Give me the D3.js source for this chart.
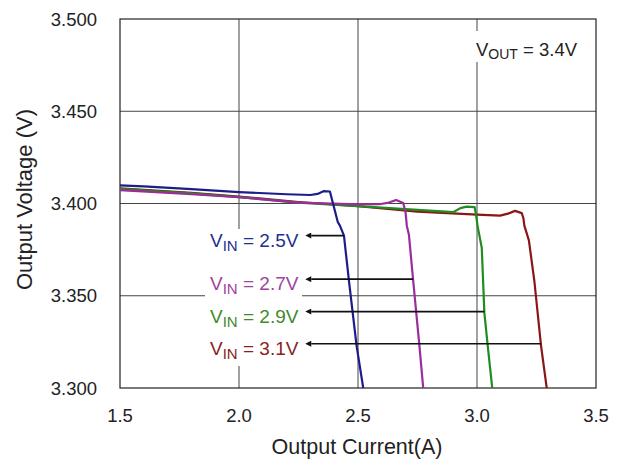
<!DOCTYPE html>
<html>
<head>
<meta charset="utf-8">
<script src="https://cdn.jsdelivr.net/npm/d3@7"></script>
<style>
  body { margin: 0; background: #fff; }
  text { font-family: "Liberation Sans", Arial, sans-serif; }
</style>
</head>
<body>
<script>
// Width and Height
const w = 620;
const h = 460;

// axis ticks
const xTicks = [1.5, 2.0, 2.5, 3.0, 3.5];
const yTicks = [3.300, 3.350, 3.400, 3.450, 3.500];

// series
const vin25X = [1.5, 1.6, 1.8, 2.0, 2.2, 2.3, 2.33, 2.355, 2.382, 2.395, 2.415, 2.424, 2.441, 2.462, 2.494, 2.522];
const vin25Y = [3.4098, 3.4093, 3.4078, 3.4062, 3.4050, 3.4046, 3.4052, 3.4067, 3.4065, 3.4000, 3.3900, 3.3880, 3.3826, 3.3580, 3.3230, 3.3000];

const vin27X = [1.5, 1.8, 2.0, 2.25, 2.5, 2.59, 2.63, 2.66, 2.69, 2.70, 2.705, 2.714, 2.732, 2.758, 2.774];
const vin27Y = [3.4073, 3.4050, 3.4034, 3.4005, 3.3995, 3.3996, 3.4005, 3.4019, 3.4003, 3.3950, 3.3880, 3.3830, 3.3580, 3.3230, 3.3000];

const vin29X = [1.5, 1.8, 2.0, 2.25, 2.5, 2.7, 2.9, 2.93, 2.957, 2.99, 2.997, 3.002, 3.020, 3.031, 3.045, 3.064];
const vin29Y = [3.4080, 3.4055, 3.4035, 3.4005, 3.3986, 3.3970, 3.3953, 3.3975, 3.3983, 3.3980, 3.3930, 3.3880, 3.3760, 3.3407, 3.3230, 3.3000];

const vin31X = [1.5, 1.8, 2.0, 2.25, 2.5, 2.75, 3.0, 3.097, 3.13, 3.16, 3.188, 3.195, 3.199, 3.218, 3.241, 3.269, 3.293];
const vin31Y = [3.4082, 3.4058, 3.4038, 3.4008, 3.3985, 3.3956, 3.3940, 3.3934, 3.3945, 3.3960, 3.3948, 3.3920, 3.3880, 3.3800, 3.3580, 3.3230, 3.3000];

// legend labels + arrows
const vinNames = ["2.5V", "2.7V", "2.9V", "3.1V"];
const arrowY = [3.3826, 3.3590, 3.3414, 3.3240];
const arrowEnd = [2.441, 2.732, 3.031, 3.270];
const arrowTip = 2.27;

const lineColors = ["#1c1c8a", "#9b2c9b", "#1e8c1e", "#8a1616"];
const textColors = ["#23308f", "#a0429f", "#3e8a2a", "#8b2222"];

const margin = {top: 19, right: 24, bottom: 72, left: 120};
const iw = w - margin.left - margin.right;
const ih = h - margin.top - margin.bottom;

const x = d3.scaleLinear().domain([1.5, 3.5]).range([0, iw]);
const y = d3.scaleLinear().domain([3.3, 3.5]).range([ih, 0]);

// Create SVG
const svg = d3.select("body")
                .append("svg")
                .attr("width", w)
                .attr("height", h);

const g = svg.append("g")
                .attr("transform", `translate(${margin.left},${margin.top})`);

// grid lines
g.selectAll(".vgrid")
    .data(xTicks.slice(1, -1))
    .enter()
    .append("line")
    .attr("x1", d => x(d)).attr("x2", d => x(d))
    .attr("y1", 0).attr("y2", ih)
    .attr("stroke", "#444").attr("stroke-width", 1);

g.selectAll(".hgrid")
    .data(yTicks.slice(1, -1))
    .enter()
    .append("line")
    .attr("x1", 0).attr("x2", iw)
    .attr("y1", d => y(d)).attr("y2", d => y(d))
    .attr("stroke", "#444").attr("stroke-width", 1);

// frame
g.append("rect")
    .attr("width", iw).attr("height", ih)
    .attr("fill", "none").attr("stroke", "#222").attr("stroke-width", 1.2);

// tick labels
g.selectAll(".ylab")
    .data(yTicks)
    .enter()
    .append("text")
    .attr("x", -23)
    .attr("y", d => y(d) + 6.5)
    .attr("text-anchor", "end")
    .attr("font-size", 18.5)
    .attr("fill", "#222")
    .text(d => d.toFixed(3));

g.selectAll(".xlab")
    .data(xTicks)
    .enter()
    .append("text")
    .attr("x", d => x(d))
    .attr("y", ih + 34)
    .attr("text-anchor", "middle")
    .attr("font-size", 18.5)
    .attr("fill", "#222")
    .text(d => d.toFixed(1));

// axis titles
svg.append("text")
    .attr("x", margin.left + iw / 2 - 1)
    .attr("y", 454)
    .attr("text-anchor", "middle")
    .attr("font-size", 21.5)
    .attr("fill", "#222")
    .text("Output Current(A)");

svg.append("text")
    .attr("transform", `translate(32,${margin.top + ih / 2 - 4}) rotate(-90)`)
    .attr("text-anchor", "middle")
    .attr("font-size", 22)
    .attr("fill", "#222")
    .text("Output Voltage (V)");

// curves
const line = d3.line()
                .x(d => x(d[0]))
                .y(d => y(d[1]));

const series = [
    [vin31X, vin31Y, lineColors[3]],
    [vin29X, vin29Y, lineColors[2]],
    [vin27X, vin27Y, lineColors[1]],
    [vin25X, vin25Y, lineColors[0]]
];

series.forEach(function(s) {
    g.append("path")
        .datum(s[0].map((v, i) => [v, s[1][i]]))
        .attr("d", line)
        .attr("fill", "none")
        .attr("stroke", s[2])
        .attr("stroke-width", 2.2)
        .attr("stroke-linejoin", "round");
});

// white box behind the labels
g.append("rect")
    .attr("x", x(1.5) + 85)
    .attr("y", y(3.3) - 159)
    .attr("width", 97)
    .attr("height", 137)
    .attr("fill", "#fff");

// arrows
svg.append("defs").append("marker")
    .attr("id", "head")
    .attr("viewBox", "0 0 10 10")
    .attr("refX", 0).attr("refY", 5)
    .attr("markerWidth", 9).attr("markerHeight", 6)
    .attr("markerUnits", "userSpaceOnUse")
    .attr("orient", "auto-start-reverse")
    .append("path")
    .attr("d", "M0,0 L10,5 L0,10 z")
    .attr("fill", "#111");

g.selectAll(".arrow")
    .data(arrowY)
    .enter()
    .append("line")
    .attr("x1", x(arrowTip) + 8)
    .attr("x2", (d, i) => x(arrowEnd[i]))
    .attr("y1", d => y(d)).attr("y2", d => y(d))
    .attr("stroke", "#111").attr("stroke-width", 1.6)
    .attr("marker-start", "url(#head)");

// labels
const lab = g.selectAll(".vin")
    .data(vinNames)
    .enter()
    .append("text")
    .attr("x", x(1.5) + 90)
    .attr("y", (d, i) => y(arrowY[i]) + 11)
    .attr("font-size", 19)
    .attr("fill", (d, i) => textColors[i]);

lab.append("tspan").text("V");
lab.append("tspan").attr("font-size", 15).attr("dy", 4).text("IN");
lab.append("tspan").attr("dy", -4).text(d => " = " + d);

// VOUT box
g.append("rect")
    .attr("x", x(3.0) - 4)
    .attr("y", 12)
    .attr("width", 108)
    .attr("height", 31)
    .attr("fill", "#fff");

const vout = g.append("text")
    .attr("x", x(3.0) - 1)
    .attr("y", 37)
    .attr("font-size", 18.5)
    .attr("fill", "#222");

vout.append("tspan").text("V");
vout.append("tspan").attr("font-size", 14).attr("dy", 3).text("OUT");
vout.append("tspan").attr("dy", -3).text(" = 3.4V");
</script>
</body>
</html>
